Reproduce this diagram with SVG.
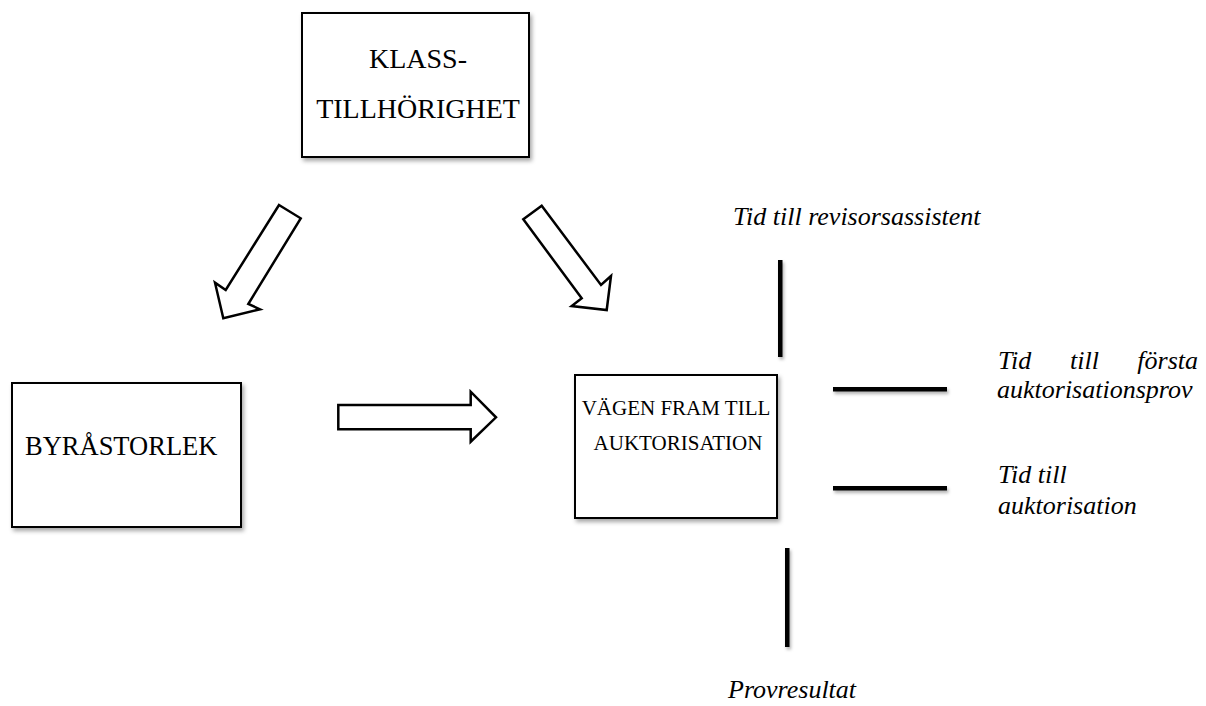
<svg xmlns="http://www.w3.org/2000/svg" width="1206" height="706" viewBox="0 0 1206 706">
<defs>
<filter id="sh" x="-20%" y="-20%" width="150%" height="150%">
<feDropShadow dx="2" dy="3" stdDeviation="2" flood-color="#000" flood-opacity="0.35"/>
</filter>
<filter id="shb" filterUnits="userSpaceOnUse" x="0" y="0" width="1206" height="706">
<feDropShadow dx="1.5" dy="2.5" stdDeviation="1.5" flood-color="#000" flood-opacity="0.3"/>
</filter>
<style>
.box{fill:#fff;stroke:#000;stroke-width:2;filter:url(#sh)}
.arr{fill:#fff;stroke:#000;stroke-width:2.5;stroke-linejoin:miter}
.bar{fill:#000;filter:url(#shb)}
.t{font-family:"Liberation Serif",serif;fill:#000}
.i{font-family:"Liberation Serif",serif;font-style:italic;fill:#000;font-size:26px}
</style>
</defs>
<rect width="1206" height="706" fill="#fff"/>
<g id="klass">
<rect class="box" x="302" y="13" width="227" height="144"/>
<text class="t" x="418" y="68" font-size="28" text-anchor="middle">KLASS-</text>
<text class="t" x="418" y="118" font-size="28" text-anchor="middle">TILLHÖRIGHET</text>
</g>
<g id="byra">
<rect class="box" x="12" y="383" width="229" height="144"/>
<text class="t" x="25" y="455" font-size="26.5">BYRÅSTORLEK</text>
</g>
<g id="vagen">
<rect class="box" x="575" y="375" width="202" height="143"/>
<text class="t" x="676" y="415" font-size="21" text-anchor="middle">VÄGEN FRAM TILL</text>
<text class="t" x="678" y="450" font-size="21" text-anchor="middle">AUKTORISATION</text>
</g>
<g id="connectors">
<polygon class="arr" points="279,205 300.7,218.3 248.3,304 260,309.3 223.3,318.3 215,282.7 225.7,290"/>
<polygon class="arr" points="523.3,219.3 541.7,205.7 601,285 611,276 606.7,310 571.7,306 581.7,298.3"/>
<polygon class="arr" points="338.3,405 470.7,405 470.7,391.7 496,417.3 470.7,441.7 470.7,429.3 338.3,429.3"/>
<rect class="bar" x="778" y="260" width="4.5" height="97"/>
<rect class="bar" x="833" y="387" width="114" height="4.5"/>
<rect class="bar" x="833" y="486" width="114" height="4.5"/>
<rect class="bar" x="785" y="548" width="4.5" height="99"/>
</g>
<g id="labels">
<text class="i" x="733" y="225">Tid till revisorsassistent</text>
<text class="i" x="998" y="369">Tid</text>
<text class="i" x="1070" y="369">till</text>
<text class="i" x="1198" y="369" text-anchor="end">första</text>
<text class="i" x="997" y="398">auktorisationsprov</text>
<text class="i" x="998" y="483">Tid till</text>
<text class="i" x="998" y="514">auktorisation</text>
<text class="i" x="728" y="698">Provresultat</text>
</g>
</svg>
